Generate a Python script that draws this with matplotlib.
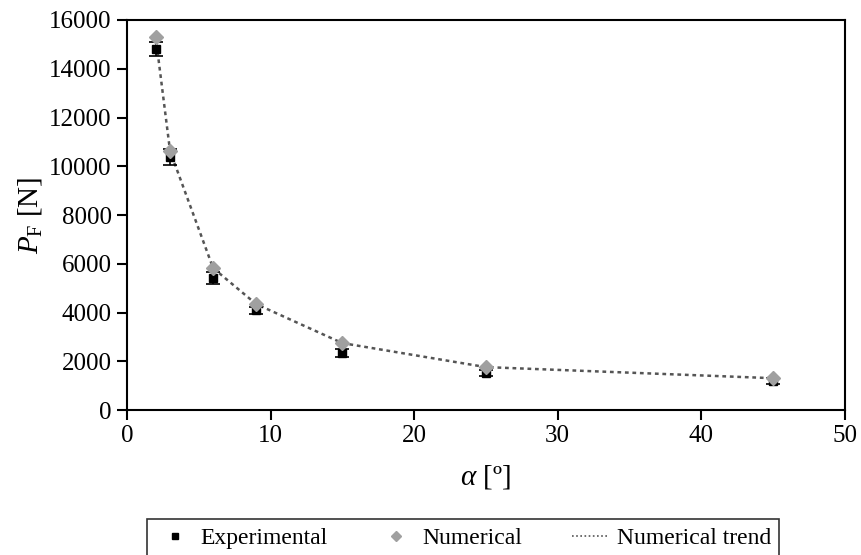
import numpy as np
import matplotlib.pyplot as plt
from matplotlib.lines import Line2D

plt.rcParams['font.family'] = ['Liberation Serif', 'DejaVu Serif']
plt.rcParams['mathtext.fontset'] = 'custom'
plt.rcParams['mathtext.rm'] = 'Liberation Serif'
plt.rcParams['mathtext.it'] = 'Liberation Serif:italic'

alpha = [2, 3, 6, 9, 15, 25, 45]
experimental = [14810, 10380, 5415, 4100, 2340, 1520, 1190]
exp_err = [300, 330, 250, 150, 150, 130, 120]
numerical = [15300, 10625, 5825, 4350, 2750, 1765, 1310]

fig = plt.figure(figsize=(8.61, 5.55), dpi=100)
ax = fig.add_axes([0.1475, 0.261, 0.8335, 0.703])

ax.plot(alpha, numerical, linestyle=(0, (1.5, 1.5)), color='#555555', lw=1.8, zorder=1)
ax.errorbar(alpha, experimental, yerr=exp_err, fmt='s', color='black', ms=6,
            capsize=5, elinewidth=1.2, capthick=1.2, zorder=2)
ax.plot(alpha, numerical, 'D', color='#a0a0a0', ms=7, linestyle='none', zorder=3)

ax.set_xlim(0, 50)
ax.set_ylim(0, 16000)
ax.set_xticks(np.arange(0, 51, 10))
ax.set_yticks(np.arange(0, 16001, 2000))
ax.tick_params(direction='out', length=7, width=1.5, labelsize=18, pad=4,
               top=False, right=False)
for s in ax.spines.values():
    s.set_linewidth(1.5)

ax.set_xlabel(r'$\alpha$ [º]', fontsize=21, labelpad=11)
ax.set_ylabel(r'$P_{\rm F}$ [N]', fontsize=21, labelpad=4)

handles = [
    Line2D([], [], marker='s', color='black', ms=5, linestyle='none'),
    Line2D([], [], marker='D', color='#a0a0a0', ms=5, linestyle='none'),
    Line2D([], [], color='#555555', lw=1.2, linestyle=(0, (1, 1.5))),
]
labels = ['Experimental', 'Numerical', 'Numerical trend']
leg = fig.legend(handles, labels, loc='lower center', bbox_to_anchor=(0.538, -0.025),
                 ncol=3, fontsize=17, frameon=True, fancybox=False, edgecolor='black',
                 handlelength=1.6, handletextpad=0.3, columnspacing=2.1,
                 borderpad=0.35)
leg.get_frame().set_linewidth(1.2)

fig.savefig('out.png', dpi=100)
